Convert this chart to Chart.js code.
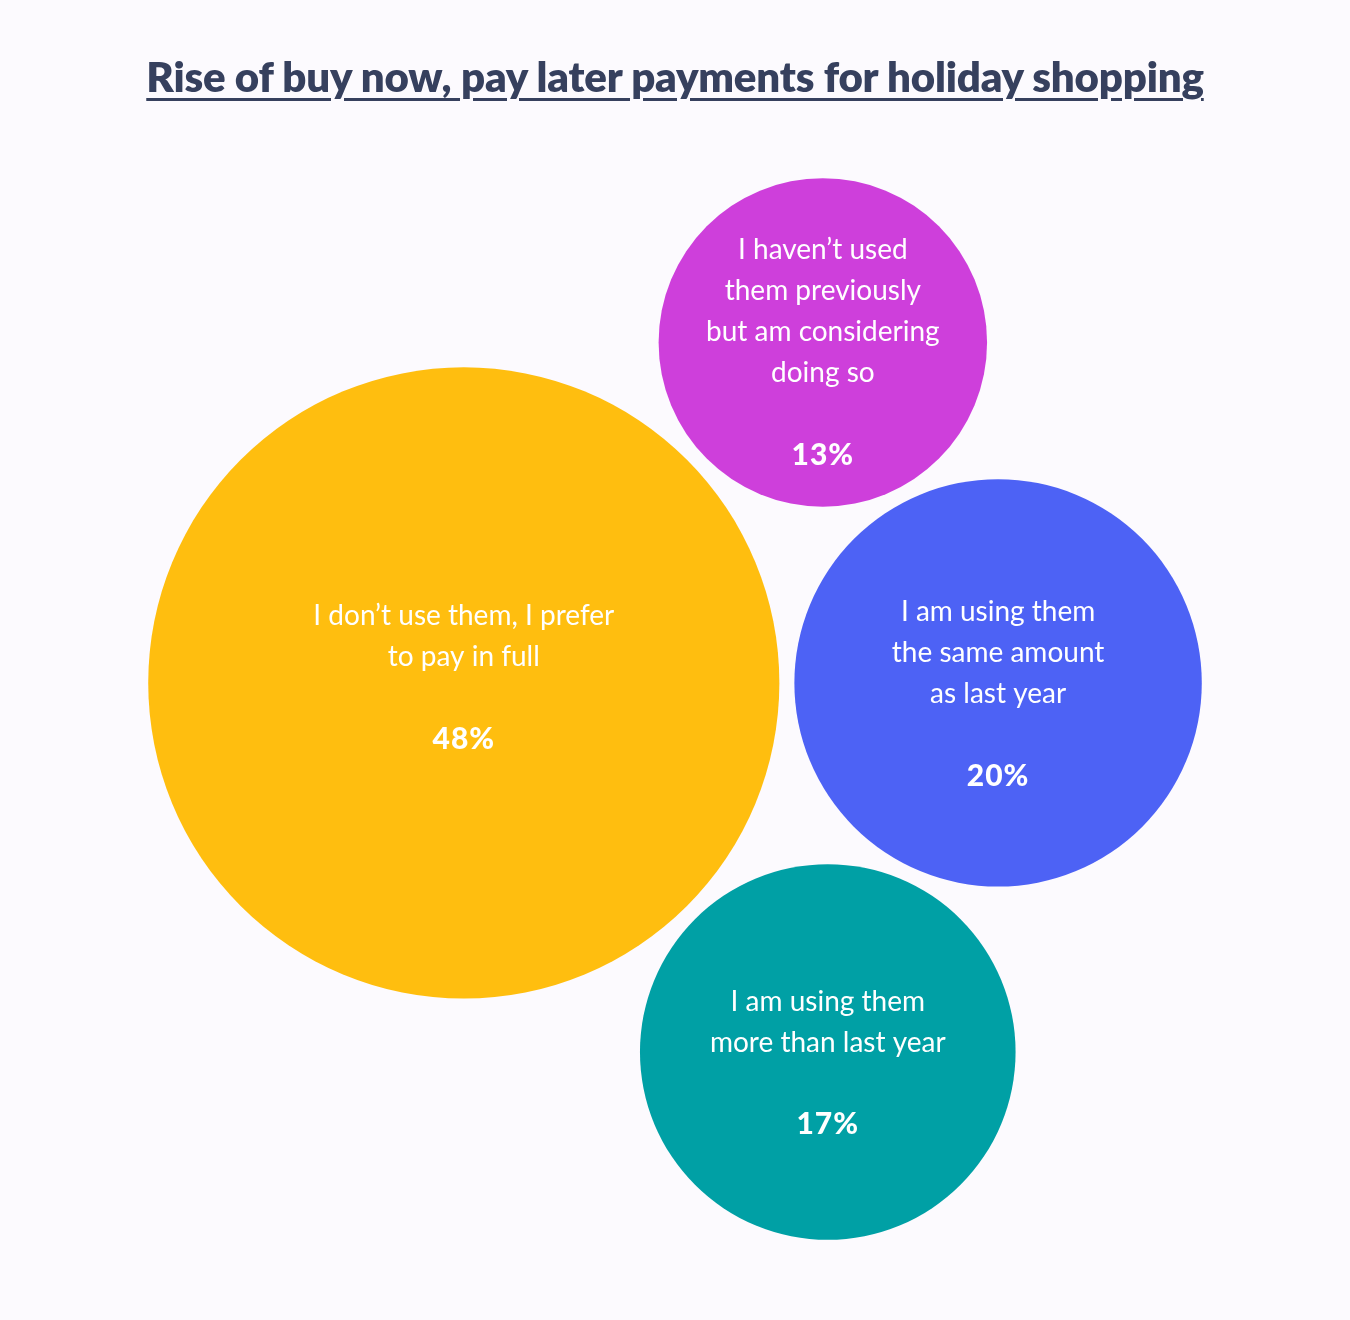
<!DOCTYPE html>
<html>
<head>
<meta charset="utf-8">
<script src="https://cdn.jsdelivr.net/npm/chart.js@4.4.1/dist/chart.umd.min.js"></script>
<style>
  html, body { margin: 0; padding: 0; background: #FCFAFE; }
  .wrap { position: relative; width: 1350px; height: 1320px; }
  .title {
    position: absolute; left: 0; right: 0; top: 51px;
    text-align: center;
    font-family: Lato, sans-serif; font-weight: 800; font-size: 42px;
    color: #36405E; text-decoration: underline; text-decoration-thickness: 3px;
    text-underline-offset: 6px; letter-spacing: -0.2px;
  }
  canvas { position: absolute; left: 0; top: 0; }
</style>
</head>
<body>
<div class="wrap">
  <canvas id="chart" width="1350" height="1320"></canvas>
  <div class="title">Rise of buy now, pay later payments for holiday shopping</div>
</div>
<script>
// --- Data ---
const categories = [
  ["I don’t use them, I prefer", "to pay in full"],
  ["I haven’t used", "them previously", "but am considering", "doing so"],
  ["I am using them", "the same amount", "as last year"],
  ["I am using them", "more than last year"]
];
const shares = [48, 13, 20, 17];
const bubbleColors = ['#FFBE0F', '#CE3FDB', '#4D62F5', '#00A0A5'];

// --- Layout: packed circles, area proportional to share ---
const radiusScale = 45.55;   // px per sqrt(percent)
const gap = 15;
const W = 1350, H = 1320;
const packCenter = { x: 675, y: 709 };
const labelNudge = [-5, 10, 11, 11];

const radii = shares.map(v => radiusScale * Math.sqrt(v));

// big one at origin, blue to its right, the other two tangent to both
function tangentPoint(a, b, ra, rb, r, up) {
  const dA = ra + r + gap, dB = rb + r + gap;
  const dx = b.x - a.x, dy = b.y - a.y;
  const d = Math.hypot(dx, dy);
  const along = (dA * dA - dB * dB + d * d) / (2 * d);
  const h = Math.sqrt(dA * dA - along * along);
  const ux = dx / d, uy = dy / d;
  const s = up ? -1 : 1;
  return { x: a.x + ux * along - uy * h * s, y: a.y + uy * along + ux * h * s };
}

const pos = [];
pos[0] = { x: 0, y: 0 };
pos[2] = { x: radii[0] + radii[2] + gap, y: 0 };
pos[1] = tangentPoint(pos[0], pos[2], radii[0], radii[2], radii[1], true);
pos[3] = tangentPoint(pos[0], pos[2], radii[0], radii[2], radii[3], false);

// centre the whole pack on the page
let minX = Infinity, maxX = -Infinity, minY = Infinity, maxY = -Infinity;
pos.forEach((p, i) => {
  minX = Math.min(minX, p.x - radii[i]); maxX = Math.max(maxX, p.x + radii[i]);
  minY = Math.min(minY, p.y - radii[i]); maxY = Math.max(maxY, p.y + radii[i]);
});
const offX = packCenter.x - (minX + maxX) / 2;
const offY = packCenter.y - (minY + maxY) / 2;

const bubbleData = shares.map((v, i) => ({ x: pos[i].x + offX, y: pos[i].y + offY, r: radii[i] }));

// --- Labels inside bubbles ---
const bubbleLabels = {
  id: 'bubbleLabels',
  afterDatasetsDraw(chart) {
    const ctx = chart.ctx;
    const meta = chart.getDatasetMeta(0);
    const lineH = 41;
    ctx.save();
    ctx.fillStyle = '#FFFFFF';
    ctx.textAlign = 'center';
    ctx.textBaseline = 'middle';
    meta.data.forEach((el, i) => {
      const lines = categories[i];
      const rows = lines.length + 2;
      let y = el.y + labelNudge[i] - (rows - 1) * lineH / 2;
      ctx.font = '400 28px Lato, sans-serif';
      lines.forEach(t => { ctx.fillText(t, el.x, y); y += lineH; });
      y += lineH;
      ctx.font = '900 30px Lato, sans-serif';
      ctx.letterSpacing = '1px';
      ctx.fillText(shares[i] + '%', el.x, y);
      ctx.letterSpacing = '0px';
    });
    ctx.restore();
  }
};

new Chart(document.getElementById('chart'), {
  type: 'bubble',
  data: {
    datasets: [{
      data: bubbleData,
      backgroundColor: bubbleColors,
      hoverBackgroundColor: bubbleColors,
      borderWidth: 0,
      hoverBorderWidth: 0,
      hoverRadius: 0,
      clip: false
    }]
  },
  options: {
    responsive: false,
    animation: false,
    devicePixelRatio: 1,
    events: [],
    layout: { padding: 0, autoPadding: false },
    plugins: { legend: { display: false }, tooltip: { enabled: false }, title: { display: false } },
    scales: {
      x: { type: 'linear', min: 0, max: W, display: false },
      y: { type: 'linear', min: 0, max: H, reverse: true, display: false }
    }
  },
  plugins: [bubbleLabels]
});
</script>
</body>
</html>
